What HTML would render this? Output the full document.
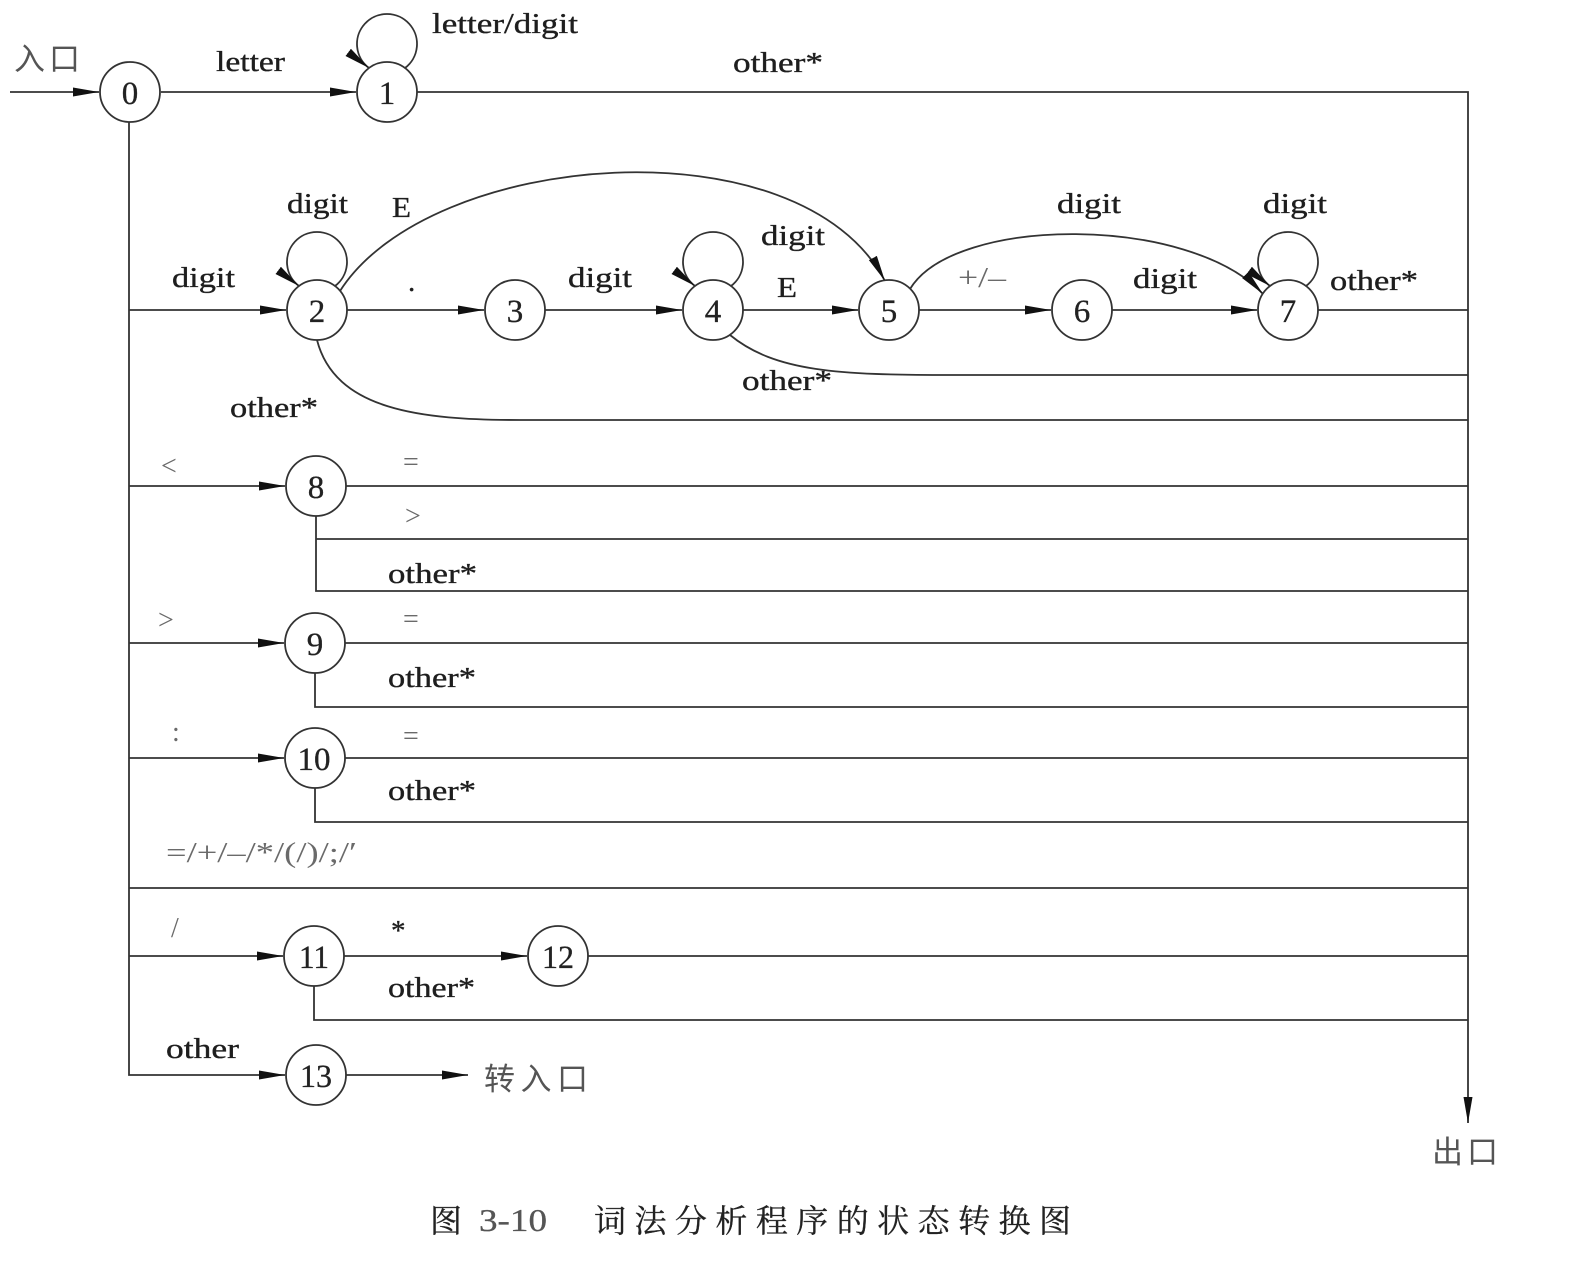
<!DOCTYPE html>
<html>
<head>
<meta charset="utf-8">
<style>
  html,body{margin:0;padding:0;background:#fff;}
  svg{display:block;}
  .t{font-family:"Liberation Serif","Noto Serif CJK SC",serif;font-size:29px;fill:#1e1e1e;stroke:#1e1e1e;stroke-width:0.35;}
  .g{font-family:"Liberation Serif","Noto Serif CJK SC",serif;font-size:28px;fill:#6a6a6a;}
  .n{font-family:"Liberation Serif",serif;font-size:33px;fill:#222;text-anchor:middle;stroke:#222;stroke-width:0.3;}
  .c{font-family:"Liberation Sans","Noto Sans CJK SC",sans-serif;font-size:31px;fill:#555;}
  .cap{font-family:"Liberation Serif","Noto Serif CJK SC",serif;font-size:32px;fill:#222;stroke:#222;stroke-width:0.3;}
  .l{fill:none;stroke:#333;stroke-width:1.8;}
  .nd{fill:#fff;stroke:#333;stroke-width:1.8;}
</style>
</head>
<body>
<svg width="1572" height="1266" viewBox="0 0 1572 1266" xmlns="http://www.w3.org/2000/svg">
  <defs>
    <marker id="a" markerUnits="userSpaceOnUse" markerWidth="27" markerHeight="11" refX="26" refY="5.5" orient="auto">
      <path d="M0,1 L26,5.5 L0,10 z" fill="#111"/>
    </marker>
  </defs>

  <!-- connectors -->
  <path class="l" d="M10 92 L99 92" marker-end="url(#a)"/>
  <path class="l" d="M161 92 L356 92" marker-end="url(#a)"/>
  <path class="l" d="M417 92 L1468 92 L1468 1123" marker-end="url(#a)"/>

  <path class="l" d="M129 122 L129 1075 L285 1075" marker-end="url(#a)"/>
  <path class="l" d="M129 310 L286 310" marker-end="url(#a)"/>
  <path class="l" d="M129 486 L285 486" marker-end="url(#a)"/>
  <path class="l" d="M129 643 L284 643" marker-end="url(#a)"/>
  <path class="l" d="M129 758 L284 758" marker-end="url(#a)"/>
  <path class="l" d="M129 888 L1468 888"/>
  <path class="l" d="M129 956 L283 956" marker-end="url(#a)"/>

  <!-- number row -->
  <path class="l" d="M347 310 L484 310" marker-end="url(#a)"/>
  <path class="l" d="M545 310 L682 310" marker-end="url(#a)"/>
  <path class="l" d="M743 310 L858 310" marker-end="url(#a)"/>
  <path class="l" d="M919 310 L1051 310" marker-end="url(#a)"/>
  <path class="l" d="M1112 310 L1257 310" marker-end="url(#a)"/>
  <path class="l" d="M1318 310 L1468 310"/>
  <path class="l" d="M730 335 C775 372, 840 375, 950 375 L1468 375"/>
  <path class="l" d="M317 340 C335 410, 420 420, 520 420 L1468 420"/>
  <path class="l" d="M340 291 C430 150, 800 120, 885 281" marker-end="url(#a)"/>
  <path class="l" d="M910 289 C955 215, 1190 215, 1263 294" marker-end="url(#a)"/>

  <!-- self loops -->
  <path class="l" d="M405 68 A30 30 0 1 0 369 68" marker-end="url(#a)"/>
  <path class="l" d="M335 286 A30 30 0 1 0 299 286" marker-end="url(#a)"/>
  <path class="l" d="M731 286 A30 30 0 1 0 695 286" marker-end="url(#a)"/>
  <path class="l" d="M1306 286 A30 30 0 1 0 1270 286" marker-end="url(#a)"/>

  <!-- 8 -->
  <path class="l" d="M346 486 L1468 486"/>
  <path class="l" d="M316 516 L316 591 L1468 591"/>
  <path class="l" d="M316 539 L1468 539"/>
  <!-- 9 -->
  <path class="l" d="M345 643 L1468 643"/>
  <path class="l" d="M315 673 L315 707 L1468 707"/>
  <!-- 10 -->
  <path class="l" d="M345 758 L1468 758"/>
  <path class="l" d="M315 788 L315 822 L1468 822"/>
  <!-- 11 / 12 -->
  <path class="l" d="M344 956 L527 956" marker-end="url(#a)"/>
  <path class="l" d="M588 956 L1468 956"/>
  <path class="l" d="M314 986 L314 1020 L1468 1020"/>
  <!-- 13 -->
  <path class="l" d="M346 1075 L468 1075" marker-end="url(#a)"/>

  <!-- nodes -->
  <circle class="nd" cx="130" cy="92" r="30"/><text class="n" x="130" y="104">0</text>
  <circle class="nd" cx="387" cy="92" r="30"/><text class="n" x="387" y="104">1</text>
  <circle class="nd" cx="317" cy="310" r="30"/><text class="n" x="317" y="322">2</text>
  <circle class="nd" cx="515" cy="310" r="30"/><text class="n" x="515" y="322">3</text>
  <circle class="nd" cx="713" cy="310" r="30"/><text class="n" x="713" y="322">4</text>
  <circle class="nd" cx="889" cy="310" r="30"/><text class="n" x="889" y="322">5</text>
  <circle class="nd" cx="1082" cy="310" r="30"/><text class="n" x="1082" y="322">6</text>
  <circle class="nd" cx="1288" cy="310" r="30"/><text class="n" x="1288" y="322">7</text>
  <circle class="nd" cx="316" cy="486" r="30"/><text class="n" x="316" y="498">8</text>
  <circle class="nd" cx="315" cy="643" r="30"/><text class="n" x="315" y="655">9</text>
  <circle class="nd" cx="315" cy="758" r="30"/><text class="n" x="314" y="770" textLength="33" lengthAdjust="spacingAndGlyphs">10</text>
  <circle class="nd" cx="314" cy="956" r="30"/><text class="n" x="314" y="968" textLength="30" lengthAdjust="spacingAndGlyphs">11</text>
  <circle class="nd" cx="558" cy="956" r="30"/><text class="n" x="558" y="968" textLength="32" lengthAdjust="spacingAndGlyphs">12</text>
  <circle class="nd" cx="316" cy="1075" r="30"/><text class="n" x="316" y="1087" textLength="32" lengthAdjust="spacingAndGlyphs">13</text>

  <!-- labels -->
  <text class="c" x="14" y="70" textLength="66" lengthAdjust="spacing">入口</text>
  <text class="t" x="216" y="71" textLength="69" lengthAdjust="spacingAndGlyphs">letter</text>
  <text class="t" x="432" y="33" textLength="146" lengthAdjust="spacingAndGlyphs">letter/digit</text>
  <text class="t" x="733" y="72" textLength="90" lengthAdjust="spacingAndGlyphs">other*</text>

  <text class="t" x="287" y="213" textLength="61" lengthAdjust="spacingAndGlyphs">digit</text>
  <text class="t" x="392" y="217" textLength="19" lengthAdjust="spacingAndGlyphs">E</text>
  <text class="t" x="172" y="287" textLength="63" lengthAdjust="spacingAndGlyphs">digit</text>
  <text class="t" x="408" y="291">.</text>
  <text class="t" x="568" y="287" textLength="64" lengthAdjust="spacingAndGlyphs">digit</text>
  <text class="t" x="761" y="245" textLength="64" lengthAdjust="spacingAndGlyphs">digit</text>
  <text class="t" x="777" y="297" textLength="20" lengthAdjust="spacingAndGlyphs">E</text>
  <text class="t" x="1057" y="213" textLength="64" lengthAdjust="spacingAndGlyphs">digit</text>
  <text class="g" x="958" y="287" textLength="48" lengthAdjust="spacingAndGlyphs">+/–</text>
  <text class="t" x="1133" y="288" textLength="64" lengthAdjust="spacingAndGlyphs">digit</text>
  <text class="t" x="1263" y="213" textLength="64" lengthAdjust="spacingAndGlyphs">digit</text>
  <text class="t" x="1330" y="290" textLength="88" lengthAdjust="spacingAndGlyphs">other*</text>
  <text class="t" x="742" y="390" textLength="90" lengthAdjust="spacingAndGlyphs">other*</text>
  <text class="t" x="230" y="417" textLength="88" lengthAdjust="spacingAndGlyphs">other*</text>

  <text class="g" x="161" y="475">&lt;</text>
  <text class="g" x="403" y="471">=</text>
  <text class="g" x="405" y="525">&gt;</text>
  <text class="t" x="388" y="583" textLength="89" lengthAdjust="spacingAndGlyphs">other*</text>

  <text class="g" x="158" y="629">&gt;</text>
  <text class="g" x="403" y="628">=</text>
  <text class="t" x="388" y="687" textLength="88" lengthAdjust="spacingAndGlyphs">other*</text>

  <text class="g" x="172" y="741">:</text>
  <text class="g" x="403" y="745">=</text>
  <text class="t" x="388" y="800" textLength="88" lengthAdjust="spacingAndGlyphs">other*</text>

  <text class="g" x="166" y="862" textLength="191" lengthAdjust="spacingAndGlyphs">=/+/–/*/(/)/;/′</text>

  <text class="g" x="171" y="937">/</text>
  <text class="t" x="391" y="940">*</text>
  <text class="t" x="388" y="997" textLength="87" lengthAdjust="spacingAndGlyphs">other*</text>

  <text class="t" x="166" y="1058" textLength="73" lengthAdjust="spacingAndGlyphs">other</text>
  <text class="c" x="484" y="1090" textLength="104" lengthAdjust="spacing">转入口</text>
  <text class="c" x="1432" y="1163" textLength="66" lengthAdjust="spacing">出口</text>

  <!-- caption -->
  <text class="cap" x="430" y="1232">图</text>
  <text class="cap" x="479" y="1231" style="fill:#555;stroke:#555" textLength="68" lengthAdjust="spacingAndGlyphs">3-10</text>
  <text class="cap" x="594" y="1232" textLength="477" lengthAdjust="spacing">词法分析程序的状态转换图</text>
</svg>
</body>
</html>
